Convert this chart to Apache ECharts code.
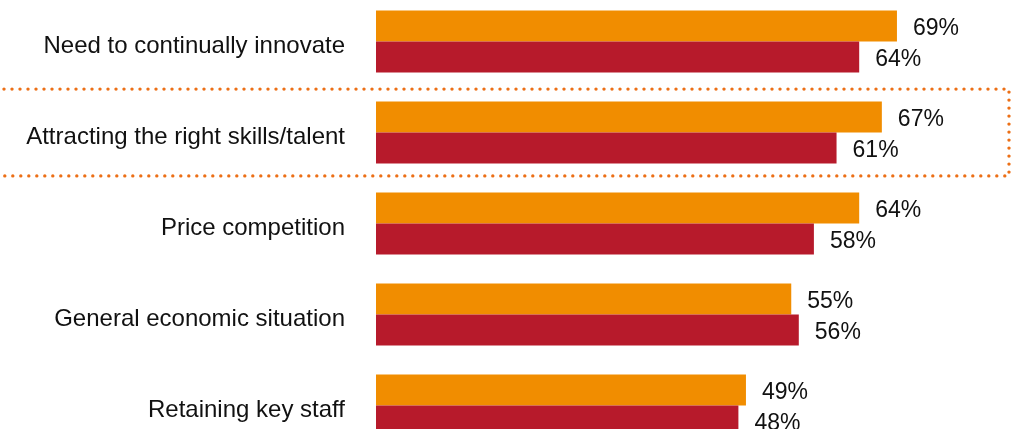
<!DOCTYPE html>
<html>
<head>
<meta charset="utf-8">
<script src="https://cdn.jsdelivr.net/npm/echarts@6/dist/echarts.min.js"></script>
<style>
  html, body { margin: 0; padding: 0; background: #ffffff; }
  #chart { width: 1016px; height: 429px; }
</style>
</head>
<body>
<div id="chart"></div>
<script>
// Business challenges, share of respondents (%)
const categories = [
  'Need to continually innovate',
  'Attracting the right skills/talent',
  'Price competition',
  'General economic situation',
  'Retaining key staff'
];
const seriesA = [69, 67, 64, 55, 49];
const seriesB = [64, 61, 58, 56, 48];
const highlighted = 'Attracting the right skills/talent';

const ORANGE = '#f18d00';
const RED = '#b71a2b';
const FONT = '"Helvetica Neue", Helvetica, "Liberation Sans", Arial, sans-serif';

const chart = echarts.init(document.getElementById('chart'), null, { renderer: 'canvas' });

const valueLabel = {
  show: true,
  position: 'right',
  distance: 16,
  offset: [0, 3],
  formatter: p => p.value + '%',
  fontFamily: FONT,
  fontSize: 23,
  color: '#111111'
};

chart.setOption({
  animation: false,
  backgroundColor: '#ffffff',
  grid: {
    left: 376, top: -4, width: 755, height: 455,
    containLabel: false,
    outerBoundsMode: 'none'
  },
  xAxis: {
    type: 'value',
    min: 0,
    max: 100,
    show: false
  },
  yAxis: {
    type: 'category',
    inverse: true,
    data: categories,
    axisLine: { show: false },
    axisTick: { show: false },
    splitLine: { show: false },
    axisLabel: {
      margin: 31,
      formatter: v => '{c|' + v + '}',
      rich: {
        c: {
          padding: [9, 0, 0, 0],
          fontFamily: FONT,
          fontSize: 24,
          color: '#111111'
        }
      }
    }
  },
  series: [
    {
      type: 'bar',
      data: seriesA,
      barWidth: 31,
      barGap: '0%',
      itemStyle: { color: ORANGE },
      label: valueLabel
    },
    {
      type: 'bar',
      data: seriesB,
      barWidth: 31,
      barGap: '0%',
      itemStyle: { color: RED },
      label: valueLabel
    }
  ]
});

// Dotted frame around the highlighted category
const cy = chart.convertToPixel({ yAxisIndex: 0 }, highlighted);
const halfH = 43.4;
chart.setOption({
  graphic: [{
    type: 'rect',
    silent: true,
    z: 10,
    shape: { x: -20, y: cy - halfH, width: 1029, height: halfH * 2 },
    style: {
      fill: null,
      stroke: '#ec6f16',
      lineWidth: 3.4,
      lineDash: [0, 8],
      lineCap: 'round'
    }
  }]
});
</script>
</body>
</html>
